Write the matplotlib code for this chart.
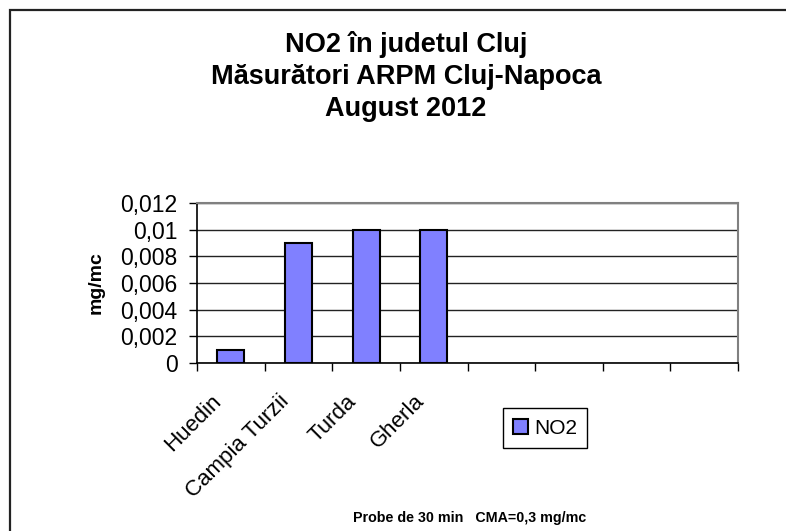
import matplotlib
matplotlib.use("Agg")
import matplotlib.pyplot as plt
from matplotlib.patches import Rectangle
from matplotlib.transforms import ScaledTranslation

plt.rcParams['font.family'] = ['Liberation Sans', 'DejaVu Sans']

# data
cities = ["Huedin", "Campia Turzii", "Turda", "Gherla"]
no2 = [0.001, 0.009, 0.010, 0.010]
n_slots = 8
yticks = [0, 0.002, 0.004, 0.006, 0.008, 0.010, 0.012]
ytick_labels = ["0", "0,002", "0,004", "0,006", "0,008", "0,01", "0,012"]

W, H = 786, 531
fig = plt.figure(figsize=(W / 100, H / 100), dpi=100)

# plot area in pixel units
left, top, right, bottom = 197, 203, 738, 363
ax = fig.add_axes([left / W, 1 - bottom / H, (right - left) / W, (bottom - top) / H])

ax.bar(range(len(cities)), no2, width=0.4, color="#8080ff",
       edgecolor="black", linewidth=1.5, zorder=3, label="NO2")

ax.set_xlim(-0.5, n_slots - 0.5)
ax.set_ylim(0, 0.012)
ax.set_yticks(yticks)
ax.set_yticklabels(ytick_labels, fontsize=16.5)
ax.yaxis.grid(True, color="#222222", linewidth=1.0, zorder=0)
ax.tick_params(axis="y", direction="out", length=6, width=1, pad=8)

# category boundaries get the tick marks, centres get the labels
ax.set_xticks([i - 0.5 for i in range(n_slots + 1)])
ax.set_xticklabels([])
ax.tick_params(axis="x", which="major", direction="out", length=6, width=1)
ax.set_xticks(range(len(cities)), minor=True)
ax.set_xticklabels(cities, minor=True, fontsize=16, rotation=45,
                   ha="right", va="top", rotation_mode="anchor")
ax.tick_params(axis="x", which="minor", length=0, pad=20)
for lab in ax.get_xticklabels(minor=True):
    lab.set_transform(lab.get_transform() + ScaledTranslation(-0.2, 0, fig.dpi_scale_trans))

for side in ["top", "right"]:
    ax.spines[side].set_color("#808080")
    ax.spines[side].set_linewidth(1.5)
for side in ["left", "bottom"]:
    ax.spines[side].set_color("black")
    ax.spines[side].set_linewidth(1.2)

ax.set_ylabel("mg/mc", fontsize=14, fontweight="bold", labelpad=11)

fig.text(406 / W, 1 - 77 / H,
         "NO2 în judetul Cluj\nMăsurători ARPM Cluj-Napoca\nAugust 2012",
         ha="center", va="center", fontsize=19.5, fontweight="bold",
         linespacing=1.3)

fig.text(470 / W, 1 - 518 / H, "Probe de 30 min   CMA=0,3 mg/mc",
         ha="center", va="center", fontsize=10.3, fontweight="bold")

leg = ax.legend(loc="center", bbox_to_anchor=(545 / W, 1 - 428 / H),
                bbox_transform=fig.transFigure, fontsize=15, fancybox=False,
                edgecolor="black", framealpha=1, handlelength=0.7,
                handleheight=0.7, handletextpad=0.3, borderpad=0.5)
leg.get_frame().set_linewidth(1.0)

# outer chart border (right and bottom edges fall outside the picture)
fig.add_artist(Rectangle((10 / W, -0.1), 1.2, 1.1 - 10 / H,
                         transform=fig.transFigure, fill=False,
                         edgecolor="#222222", linewidth=1.6))

fig.savefig("out.png", dpi=100)
